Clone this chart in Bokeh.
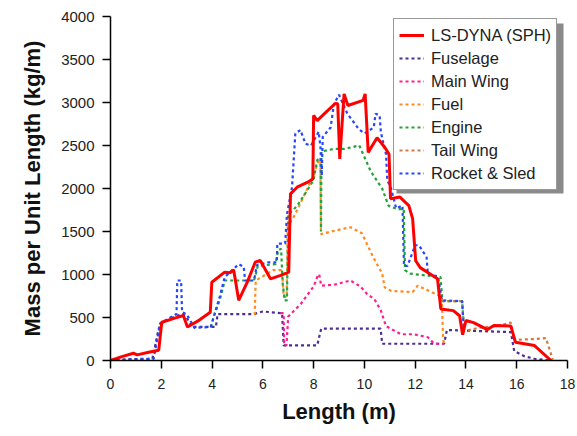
from bokeh.plotting import figure
from bokeh.models import Range1d, Legend, LegendItem, BoxAnnotation, FixedTicker
from bokeh.embed import file_html
from bokeh.resources import INLINE

# ---- data ----
x_ticks = [0, 2, 4, 6, 8, 10, 12, 14, 16, 18]
y_ticks = [0, 500, 1000, 1500, 2000, 2500, 3000, 3500, 4000]

dyna_x = [0, 0.45, 0.9, 1.05, 1.5, 1.9, 2.02, 2.5, 2.87, 3.03, 3.5, 3.93, 3.99, 4.5, 4.7,
          4.85, 5.05, 5.4, 5.7, 5.9, 6.3, 6.7, 7.02, 7.09, 7.35, 7.81, 7.97, 8.0, 8.14, 8.5,
          8.86, 8.95, 9.03, 9.2, 9.35, 9.95, 10.03, 10.15, 10.5, 10.8, 10.97, 11.03, 11.4,
          11.75, 11.9, 12.02, 12.2, 12.88, 13.01, 13.5, 13.75, 13.87, 14.0, 14.3, 14.85,
          15.1, 15.77, 15.95, 16.7, 17.35]
dyna_y = [0, 45, 85, 65, 95, 120, 445, 490, 523, 390, 470, 560, 910, 1027, 1020,
          1054, 700, 920, 1143, 1163, 950, 990, 1027, 1938, 2015, 2080, 2110, 2850, 2790, 2890,
          2990, 2985, 2345, 3100, 2965, 3025, 3100, 2420, 2590, 2480, 2400, 1880, 1900,
          1800, 1650, 1160, 1080, 950, 600, 580, 520, 300, 465, 440, 360,
          407, 400, 213, 174, 0]

fuselage_x = [0, 0.6, 1.65, 1.78, 1.88, 1.98, 2.6, 2.85, 3.0, 3.2, 4.15, 4.22, 5.65, 6.0,
              6.76, 6.82, 8.14, 8.3, 10.64, 10.7, 13.14, 13.25, 15.77, 15.9, 16.3, 16.7, 17.3]
fuselage_y = [0, 15, 20, 200, 350, 430, 520, 540, 500, 390, 390, 540, 540, 570,
              550, 175, 175, 370, 370, 195, 195, 355, 330, 110, 50, 20, 0]

wing_x = [6.7, 6.82, 6.84, 6.93, 7.0, 7.5, 8.0, 8.18, 8.22, 8.3, 8.8, 9.45, 9.85, 10.1,
          10.4, 10.65, 10.85, 11.03, 11.45, 11.95, 12.5, 12.75, 13.14]
wing_y = [550, 550, 175, 175, 510, 660, 860, 1000, 1000, 870, 880, 930, 860, 775,
          710, 580, 400, 370, 305, 305, 270, 195, 195]

fuel_x = [5.65, 5.68, 5.72, 6.4, 6.76, 6.82, 6.94, 6.98, 7.2, 7.5, 8.0, 8.2, 8.27, 8.29,
          8.7, 9.45, 9.9, 10.35, 10.7, 10.8, 11.05, 11.9, 12.1, 12.8, 13.05, 13.1, 13.14]
fuel_y = [540, 540, 930, 1050, 1050, 740, 740, 1560, 1660, 1840, 2150, 2330, 2330, 1470,
          1500, 1550, 1480, 1200, 1010, 850, 810, 795, 870, 775, 740, 250, 195]

engine_x = [3.95, 4.1, 4.3, 4.5, 5.65, 5.72, 5.8, 6.5, 6.6, 6.72, 6.78, 6.86, 6.95, 7.0,
            7.2, 7.4, 7.75, 8.0, 8.14, 8.27, 8.29, 8.31, 8.8, 9.2, 9.8, 10.25, 10.7, 10.95,
            11.3, 11.55, 11.6, 11.8, 13.0, 13.07, 13.85, 13.9]
engine_y = [390, 540, 700, 930, 930, 1000, 1100, 1120, 1280, 1300, 900, 700, 700, 1700,
            1750, 1820, 1980, 2100, 2330, 2360, 1500, 2430, 2460, 2460, 2500, 2200, 2000, 1800,
            1760, 1760, 1050, 1010, 970, 690, 690, 480]

tail_x = [13.07, 13.85, 13.92, 14.5, 15.2, 15.77, 15.9, 16.7, 17.15, 17.42]
tail_y = [690, 690, 340, 380, 400, 440, 240, 250, 260, 10]

rocket_x = [0, 1.7, 1.95, 2.6, 2.63, 2.78, 2.82, 3.0, 3.3, 3.95, 4.1, 4.3, 4.5, 5.05, 5.25,
            5.3, 5.65, 5.77, 6.2, 6.55, 6.57, 6.88, 6.95, 7.15, 7.28, 7.48, 7.68, 7.9, 8.2,
            8.27, 8.32, 8.36, 8.67, 8.8, 9.0, 9.33, 9.78, 10.0, 10.37, 10.44, 10.6, 10.65,
            10.85, 10.9, 11.05, 11.25, 11.5, 11.56, 11.7, 12.0, 12.15, 12.45, 12.5, 12.9,
            13.05, 13.85, 13.92]
rocket_y = [0, 20, 430, 540, 930, 930, 560, 540, 380, 390, 540, 740, 970, 1120, 1090,
            930, 930, 1110, 1140, 1140, 1360, 1360, 1700, 2015, 2640, 2680, 2520, 2500, 2660,
            2480, 2150, 2600, 2710, 2980, 3090, 2870, 2690, 2640, 2710, 2870, 2850, 2650,
            2400, 2100, 2000, 1770, 1800, 1100, 1100, 1340, 1340, 1200, 1000, 980,
            700, 690, 340]

labels = ["LS-DYNA (SPH)", "Fuselage", "Main Wing", "Fuel", "Engine", "Tail Wing", "Rocket & Sled"]
colors = ["#ff0000", "#4a2f98", "#ff1f8e", "#ff8a1f", "#22a33c", "#d9773a", "#2446ff"]

# ---- layout ----
W, H = 577, 436
BL, BR, BT, BB = 110, 10, 16, 76
XMAX, YMAX = 18, 4000

p = figure(width=W, height=H, output_backend="svg", toolbar_location=None,
           x_range=Range1d(0, XMAX), y_range=Range1d(0, YMAX),
           min_border_left=BL, min_border_right=BR, min_border_top=BT, min_border_bottom=BB)
p.outline_line_color = None
p.xgrid.visible = False
p.ygrid.visible = False
p.background_fill_color = "white"
p.border_fill_color = "white"

FONT = "Liberation Sans"
for ax in (p.xaxis[0], p.yaxis[0]):
    ax.axis_line_color = "black"
    ax.axis_line_width = 1.5
    ax.major_tick_line_color = "black"
    ax.major_tick_line_width = 1.5
    ax.major_tick_out = 8
    ax.major_tick_in = 0
    ax.minor_tick_line_color = None
    ax.major_label_text_font = FONT
    ax.major_label_text_color = "#222222"
    ax.axis_label_text_font = FONT
    ax.axis_label_text_font_style = "bold"
    ax.axis_label_text_color = "#111111"

p.xaxis[0].ticker = FixedTicker(ticks=x_ticks)
p.yaxis[0].ticker = FixedTicker(ticks=y_ticks)
p.xaxis[0].axis_label = "Length (m)"
p.yaxis[0].axis_label = "Mass per Unit Length (kg/m)"
p.xaxis[0].major_label_text_font_size = "14px"
p.yaxis[0].major_label_text_font_size = "15px"
p.xaxis[0].axis_label_text_font_size = "22px"
p.yaxis[0].axis_label_text_font_size = "22px"
p.xaxis[0].major_label_standoff = 10
p.yaxis[0].major_label_standoff = 8
p.xaxis[0].axis_label_standoff = 7
p.yaxis[0].axis_label_standoff = 13

series = [(fuselage_x, fuselage_y), (wing_x, wing_y), (fuel_x, fuel_y), (engine_x, engine_y),
          (tail_x, tail_y), (rocket_x, rocket_y)]
rends = {}
for (xs, ys), lab, col in zip(series, labels[1:], colors[1:]):
    rends[lab] = p.line(xs, ys, line_color=col, line_width=2.2, line_dash="3 3")
rends[labels[0]] = p.line(dyna_x, dyna_y, line_color=colors[0], line_width=3)

# legend shadow (screen px -> data)
fw = W - BL - BR
fh = H - BT - BB
def sx(px):
    return (px - BL) / fw * XMAX
def sy(py):
    return (BT + fh - py) / fh * YMAX

LEG_L, LEG_T, LEG_W, LEG_H, SH = 393, 20, 167, 170, 3
shadow = BoxAnnotation(left=sx(LEG_L + SH), right=sx(LEG_L + LEG_W + SH),
                       top=sy(LEG_T + SH), bottom=sy(LEG_T + LEG_H + SH),
                       fill_color="#8a8a8a", fill_alpha=1.0, line_color=None)
p.add_layout(shadow)

legend = Legend(items=[LegendItem(label=l, renderers=[rends[l]]) for l in labels],
                location=(LEG_L - BL, BT + fh - (LEG_T + LEG_H)))
legend.label_text_font = FONT
legend.label_text_font_size = "16.5px"
legend.label_text_color = "#222222"
legend.glyph_width = 25
legend.glyph_height = 22
legend.label_height = 22
legend.label_width = 118
legend.label_standoff = 7
legend.spacing = 1
legend.padding = 5
legend.margin = 0
legend.border_line_color = "#333333"
legend.border_line_width = 1
legend.background_fill_color = "white"
legend.background_fill_alpha = 1.0
p.add_layout(legend)

open("out.html", "w").write(file_html(p, INLINE))
